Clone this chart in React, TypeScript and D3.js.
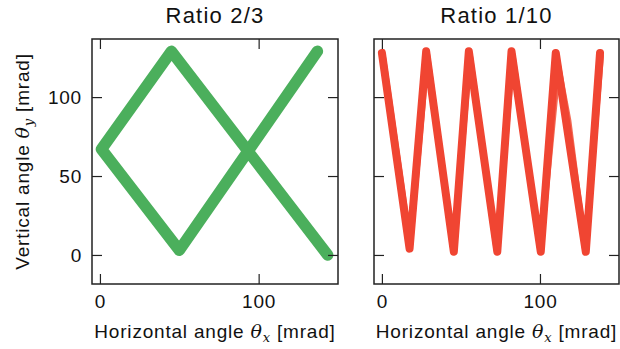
import { useEffect, useRef } from 'react';
import * as d3 from 'd3';

// panel titles
const titles = ['Ratio 2/3', 'Ratio 1/10'];

// tick values (mrad)
const xTicks = [0, 100];
const yTicks = [0, 50, 100];

// Ratio 2/3 trace (green)
const greenX = [137, 50, 1, 45, 143.5];
const greenY = [129, 3, 67, 129, 0];

// Ratio 1/10 trace (red), forward and return passes
const redX = [0, 17.5, 28, 45.5, 55, 73, 82, 100.5, 110, 129, 138];
const redY = [128, 4, 129, 2, 129, 2, 129, 2, 128, 2, 128];
const redX2 = [0.8, 17.8, 28.6, 45.2, 55.6, 72.6, 82.6, 100.2, 111.5, 118, 128.6, 138.6];
const redY2 = [125, 6, 127, 3, 127, 3, 127, 3, 120, 85, 3, 126];

const W = 620;
const H = 349;
const FONT = '"Liberation Sans", Arial, Helvetica, sans-serif';

const App = () => {
    const ref = useRef<SVGSVGElement>(null);

    useEffect(() => {
        const svg = d3.select(ref.current);
        svg.selectAll('*').remove();

        const defs = svg.append('defs');
        defs.append('filter').attr('id', 'soft')
            .attr('x', '-10%').attr('y', '-10%').attr('width', '120%').attr('height', '120%')
            .append('feGaussianBlur').attr('stdDeviation', 0.6);

        const panels = [
            { left: 92, right: 338, showY: true },
            { left: 374, right: 619, showY: false },
        ];
        const top = 39;
        const bottom = 284;

        panels.forEach((p, i) => {
            const x = d3.scaleLinear().domain([-5, 150]).range([p.left, p.right]);
            const y = d3.scaleLinear().domain([-18.4, 136.8]).range([bottom, top]);
            const g = svg.append('g');

            const clipId = `clip${i}`;
            defs.append('clipPath').attr('id', clipId)
                .append('rect').attr('x', p.left).attr('y', top)
                .attr('width', p.right - p.left).attr('height', bottom - top);

            const line = d3.line<[number, number]>().x((d) => x(d[0])).y((d) => y(d[1]));
            const plot = g.append('g').attr('clip-path', `url(#${clipId})`).attr('filter', 'url(#soft)');

            if (i === 0) {
                plot.append('path')
                    .attr('d', line(greenX.map((v, k) => [v, greenY[k]])))
                    .attr('fill', 'none').attr('stroke', '#4caf5c')
                    .attr('stroke-width', 11.5).attr('stroke-linejoin', 'round').attr('stroke-linecap', 'round');
            } else {
                plot.append('path')
                    .attr('d', line(redX2.map((v, k) => [v, redY2[k]])))
                    .attr('fill', 'none').attr('stroke', '#f26a55')
                    .attr('stroke-width', 6).attr('stroke-linejoin', 'round').attr('stroke-linecap', 'round');
                plot.append('path')
                    .attr('d', line(redX.map((v, k) => [v, redY[k]])))
                    .attr('fill', 'none').attr('stroke', '#f04432')
                    .attr('stroke-width', 8).attr('stroke-linejoin', 'round').attr('stroke-linecap', 'round');
            }

            // axes with inward ticks on all four sides
            const styleAxis = (a: d3.Selection<SVGGElement, unknown, null, undefined>) => {
                a.select('.domain').remove();
                a.selectAll('line').attr('stroke', '#222').attr('stroke-width', 1.2);
                a.selectAll('text').attr('fill', '#111').style('font-family', FONT)
                    .style('font-size', '19px').style('letter-spacing', '0.8px');
            };
            styleAxis(g.append('g').attr('transform', `translate(0,${bottom})`)
                .call(d3.axisBottom(x).tickValues(xTicks).tickSize(-10).tickPadding(11).tickFormat(d3.format('d'))));
            styleAxis(g.append('g').attr('transform', `translate(0,${top})`)
                .call(d3.axisTop(x).tickValues(xTicks).tickSize(-10).tickFormat(() => '')));
            styleAxis(g.append('g').attr('transform', `translate(${p.left},0)`)
                .call(d3.axisLeft(y).tickValues(yTicks).tickSize(-10).tickPadding(10)
                    .tickFormat(p.showY ? d3.format('d') : () => '')));
            styleAxis(g.append('g').attr('transform', `translate(${p.right},0)`)
                .call(d3.axisRight(y).tickValues(yTicks).tickSize(-10).tickFormat(() => '')));

            g.append('rect')
                .attr('x', p.left).attr('y', top)
                .attr('width', p.right - p.left).attr('height', bottom - top)
                .attr('fill', 'none').attr('stroke', '#222').attr('stroke-width', 1.5);

            const cx = (p.left + p.right) / 2;
            g.append('text').attr('x', cx).attr('y', 23).attr('text-anchor', 'middle')
                .style('font-family', FONT).style('font-size', '22px').style('letter-spacing', '1.2px')
                .attr('fill', '#111')
                .text(titles[i]);

            const xl = g.append('text').attr('x', cx).attr('y', 338).attr('text-anchor', 'middle')
                .style('font-family', FONT).style('font-size', '19px').style('letter-spacing', '0.8px')
                .attr('fill', '#111');
            xl.append('tspan').text('Horizontal angle ');
            xl.append('tspan').style('font-family', '"DejaVu Serif", serif').style('font-style', 'italic').text('θ');
            xl.append('tspan').style('font-family', '"DejaVu Serif", serif').style('font-style', 'italic')
                .style('font-size', '13px').attr('dy', 4).text('x');
            xl.append('tspan').attr('dy', -4).text(' [mrad]');

            if (p.showY) {
                const yl = g.append('text').attr('transform', `translate(29,${(top + bottom) / 2}) rotate(-90)`)
                    .attr('text-anchor', 'middle')
                    .style('font-family', FONT).style('font-size', '19px').style('letter-spacing', '0.8px')
                    .attr('fill', '#111');
                yl.append('tspan').text('Vertical angle ');
                yl.append('tspan').style('font-family', '"DejaVu Serif", serif').style('font-style', 'italic').text('θ');
                yl.append('tspan').style('font-family', '"DejaVu Serif", serif').style('font-style', 'italic')
                    .style('font-size', '13px').attr('dy', 4).text('y');
                yl.append('tspan').attr('dy', -4).text(' [mrad]');
            }
        });
    }, []);

    return (
        <svg ref={ref} width={W} height={H}
            style={{ position: 'absolute', left: 0, top: 0, background: '#fff' }} />
    );
};

export default App;
